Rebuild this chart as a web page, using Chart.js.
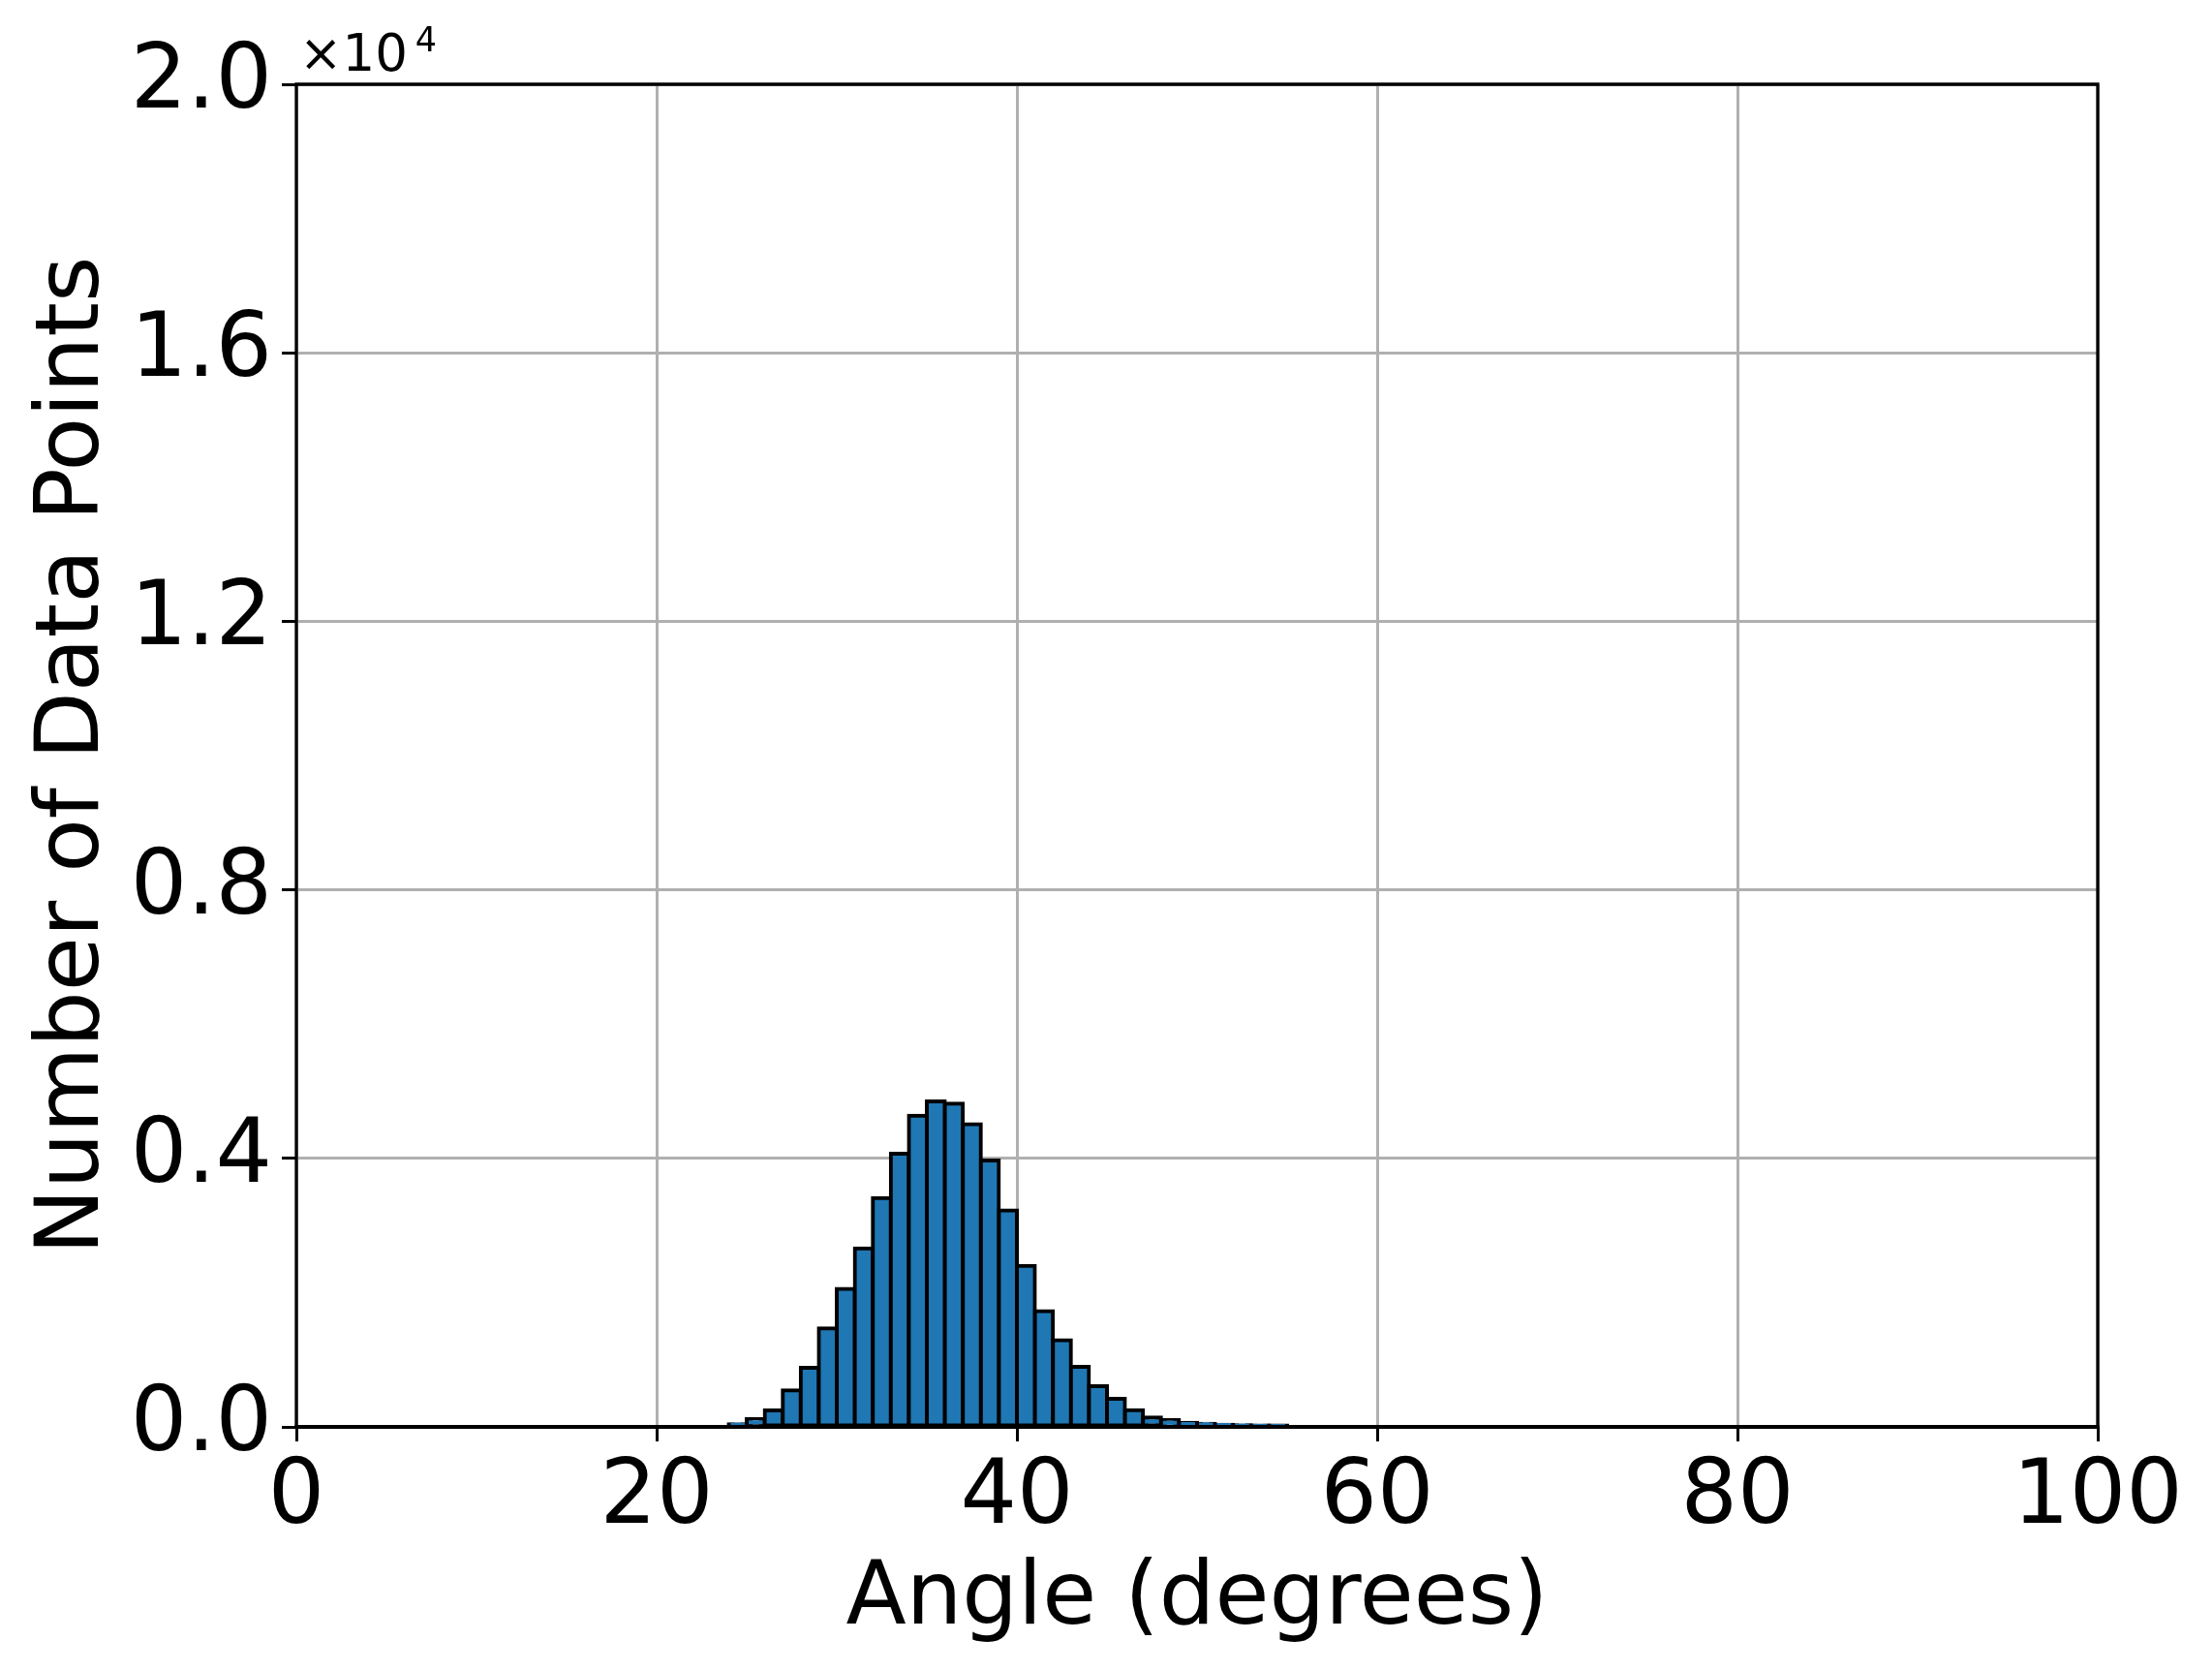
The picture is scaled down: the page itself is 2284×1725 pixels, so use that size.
<!DOCTYPE html>
<html>
<head>
<meta charset="utf-8">
<script src="https://cdn.jsdelivr.net/npm/chart.js@4"></script>
<style>
  html, body { margin: 0; padding: 0; background: #ffffff; }
  canvas { display: block; }
</style>
</head>
<body>
<canvas id="c" width="2284" height="1725"></canvas>
<script>
// Histogram bins: 1-degree bins starting at 0 (bin i covers [i, i+1])
const binStart = 0;
const binWidth = 1;
const counts = [
  0, 0, 0, 0, 0, 0, 0, 0, 0, 0,                               // 0-9
  0, 0, 0, 0, 0, 0, 0, 0, 0, 0,                               // 10-19
  0, 0, 0, 0, 40, 115, 245, 545, 880, 1470,                   // 20-29
  2055, 2660, 3410, 4070, 4635, 4850, 4815, 4510, 3970, 3225, // 30-39
  2400, 1725, 1290, 895, 605, 420, 250, 140, 100, 62,         // 40-49
  48, 33, 24, 14, 5, 0, 0, 0, 0, 0,                           // 50-59
  0, 0, 0, 0, 0, 0, 0, 0, 0, 0,                               // 60-69
  0, 0, 0, 0, 0, 0, 0, 0, 0, 0,                               // 70-79
  0, 0, 0, 0, 0, 0, 0, 0, 0, 0,                               // 80-89
  0, 0, 0, 0, 0, 0, 0, 0, 0                                   // 90-98
];
const xTicks = [0, 20, 40, 60, 80, 100];
const yTicks = [0, 4000, 8000, 12000, 16000, 20000];
const xLabel = 'Angle (degrees)';
const yLabel = 'Number of Data Points';
const offsetText = '×10';
const offsetExp = '4';

const points = counts.map((v, i) => ({ x: binStart + (i + 0.5) * binWidth, y: v }));

const FONT = 'DejaVu Sans';

const framePlugin = {
  id: 'frame',
  afterDraw(chart) {
    const { ctx, chartArea: a } = chart;
    ctx.save();
    ctx.strokeStyle = '#000000';
    ctx.lineWidth = 3.3;
    ctx.beginPath();
    ctx.moveTo(a.left, a.bottom);
    ctx.lineTo(a.left, a.top);
    ctx.lineTo(a.right, a.top);
    ctx.lineTo(a.right, a.bottom);
    ctx.stroke();
    ctx.lineWidth = 4;
    ctx.beginPath();
    ctx.moveTo(a.left - 1.6, a.bottom);
    ctx.lineTo(a.right + 1.6, a.bottom);
    ctx.stroke();
    // offset text (x10^4)
    ctx.fillStyle = '#000000';
    ctx.textBaseline = 'alphabetic';
    ctx.textAlign = 'left';
    ctx.font = '53px "' + FONT + '"';
    const x0 = a.left + 3;
    ctx.fillText(offsetText, x0, 73);
    const w = ctx.measureText(offsetText).width;
    ctx.font = '35px "' + FONT + '"';
    ctx.fillText(offsetExp, x0 + w + 8, 53);
    ctx.restore();
  }
};

new Chart(document.getElementById('c'), {
  type: 'bar',
  data: {
    datasets: [{
      data: points,
      backgroundColor: '#1f77b4',
      borderColor: '#000000',
      borderWidth: 4,
      borderSkipped: false,
      inflateAmount: 2,
      barPercentage: 1,
      categoryPercentage: 1
    }]
  },
  options: {
    responsive: false,
    animation: false,
    devicePixelRatio: 1,
    layout: { padding: { left: 0, right: 118, top: 87, bottom: 0 } },
    plugins: { legend: { display: false }, tooltip: { enabled: false } },
    scales: {
      x: {
        type: 'linear',
        min: 0, max: 100,
        offset: false,
        afterFit(s) { s.height = 252; },
        afterBuildTicks(s) { s.ticks = xTicks.map(v => ({ value: v })); },
        ticks: {
          color: '#000000',
          font: { family: FONT, size: 92, lineHeight: 1 },
          padding: 14,
          maxRotation: 0,
          autoSkip: false,
          callback: v => String(v)
        },
        grid: {
          color: '#b0b0b0', lineWidth: 3, offset: false,
          drawTicks: true, tickLength: 15, tickColor: '#000000', tickWidth: 3
        },
        border: { display: false },
        title: {
          display: true, text: xLabel, color: '#000000',
          font: { family: FONT, size: 91, lineHeight: 1.2 },
          padding: { top: 0, bottom: 18 }
        }
      },
      y: {
        min: 0, max: 20000,
        afterFit(s) { s.width = 306; },
        afterBuildTicks(s) { s.ticks = yTicks.map(v => ({ value: v })); },
        ticks: {
          color: '#000000',
          font: { family: FONT, size: 92, lineHeight: 1 },
          padding: 10,
          autoSkip: false,
          callback: v => (v / 10000).toFixed(1)
        },
        grid: {
          color: '#b0b0b0', lineWidth: 3,
          drawTicks: true, tickLength: 15, tickColor: '#000000', tickWidth: 3
        },
        border: { display: false },
        title: {
          display: true, text: yLabel, color: '#000000',
          font: { family: FONT, size: 91, lineHeight: 1.2 },
          padding: { top: 23, bottom: 0 }
        }
      }
    }
  },
  plugins: [framePlugin]
});
</script>
</body>
</html>
